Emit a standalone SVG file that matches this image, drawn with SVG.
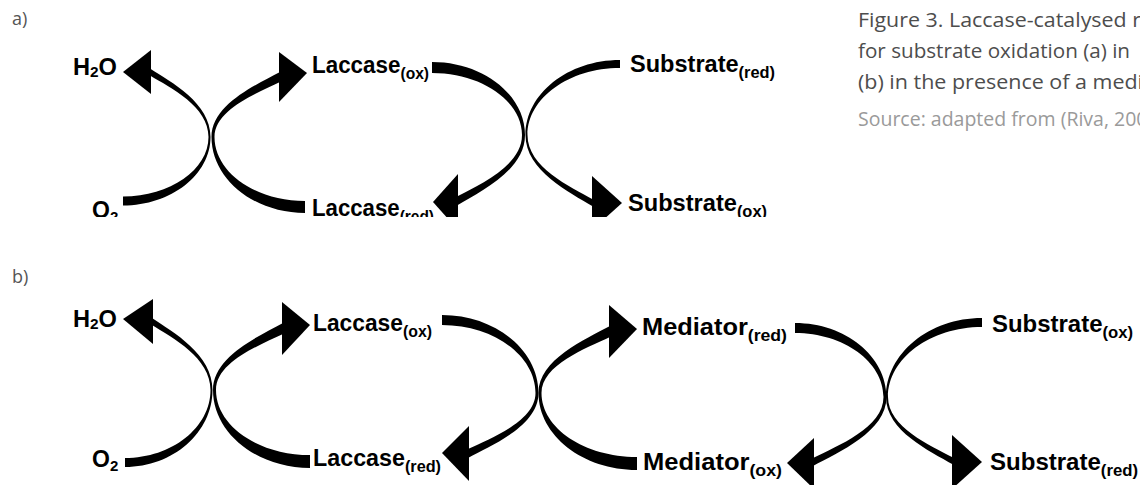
<svg xmlns="http://www.w3.org/2000/svg" width="1140" height="485" viewBox="0 0 1140 485">
<style>
.lbl{font-family:"Liberation Sans",Arial,sans-serif;font-weight:bold;font-size:23px;fill:#000}
.sub{font-size:16px}
.sub2{font-size:15px}
.arc{fill:#000;stroke:none}
.cap{font-family:"Open Sans","Liberation Sans",sans-serif;font-size:19.5px;fill:#4d4d4d}
.src{fill:#9a9a9a}
.pl{font-family:"Open Sans","Liberation Sans",sans-serif;font-size:18px;fill:#555}
</style>
<defs>
<clipPath id="clipA"><rect x="0" y="0" width="1140" height="217"/></clipPath>
</defs>
<rect width="1140" height="485" fill="#fff"/>

<g id="caption">
<text class="cap" x="858" y="27" textLength="283" lengthAdjust="spacingAndGlyphs">Figure 3. Laccase-catalysed r</text>
<text class="cap" x="858" y="58" textLength="272" lengthAdjust="spacingAndGlyphs">for substrate oxidation (a) in</text>
<text class="cap" x="858" y="89" textLength="285" lengthAdjust="spacingAndGlyphs">(b) in the presence of a medi</text>
<text class="cap src" x="858" y="126">Source: adapted from (Riva, 200</text>
</g>

<g id="label-a"><text class="pl" x="12" y="25">a)</text></g>
<g id="label-b"><text class="pl" x="12" y="283">b)</text></g>

<g id="panel-a" clip-path="url(#clipA)">
<g id="connectors-a">
<path class="arc" d="M150,68.5 C171.2,82.2 210.5,102.8 210.5,137 C210.5,174.7 171.1,205.5 123,205.5 L123,196.5 C170,196.5 208.5,169.7 208.5,137 C208.5,106.3 170.5,87.8 150,75.5 Z"/>
<polygon class="arc" points="123,72 151,50 151,94"/>
<path class="arc" d="M280,72 C256,85 211.5,104.5 211.5,137 C211.5,178.8 253.6,213 305,213 L305,201 C255.2,201 214.5,172.2 214.5,137 C214.5,109.5 257.1,93 280,82 Z"/>
<polygon class="arc" points="307,73 279,52 279,102"/>
<path class="arc" d="M432,62 C483.2,62 525,94.8 525,135 C525,170.3 480.8,191.4 457,205.5 L457,196.5 C479.8,184.2 522,165.8 522,135 C522,100.9 481.5,73 432,73 Z"/>
<polygon class="arc" points="433,202 458,174 458,230"/>
<path class="arc" d="M620,60 C568,60 525.5,93.8 525.5,135 C525.5,170.8 569.4,192.2 593,206.5 L593,199.5 C570.1,186.6 527.5,167.3 527.5,135 C527.5,98.1 569.1,68 620,68 Z"/>
<polygon class="arc" points="622,203 592,176 592,230"/>
</g>
<g id="a-h2o"><text class="lbl" x="73" y="75" textLength="44" lengthAdjust="spacingAndGlyphs">H<tspan class="sub2" dy="2">2</tspan><tspan dy="-2">O</tspan></text></g>
<g id="a-o2"><text class="lbl" x="92" y="218">O<tspan class="sub2" dy="4">2</tspan></text></g>
<g id="a-laccase-ox"><text class="lbl" x="312" y="73" textLength="117" lengthAdjust="spacingAndGlyphs">Laccase<tspan class="sub" dy="6">(ox)</tspan></text></g>
<g id="a-laccase-red"><text class="lbl" x="312" y="216" textLength="122" lengthAdjust="spacingAndGlyphs">Laccase<tspan class="sub" dy="6">(red)</tspan></text></g>
<g id="a-substrate-red"><text class="lbl" x="630" y="72" textLength="145" lengthAdjust="spacingAndGlyphs">Substrate<tspan class="sub" dy="6">(red)</tspan></text></g>
<g id="a-substrate-ox"><text class="lbl" x="628" y="211" textLength="139" lengthAdjust="spacingAndGlyphs">Substrate<tspan class="sub" dy="6">(ox)</tspan></text></g>
</g>

<g id="panel-b">
<g id="connectors-b">
<path class="arc" d="M152,318 C173.2,332.4 212.5,354 212.5,390 C212.5,432.4 173.1,467 125,467 L125,458 C172,458 210.5,427.4 210.5,390 C210.5,357.5 172.5,338 152,325 Z"/>
<polygon class="arc" points="123,319 153,299 153,344"/>
<path class="arc" d="M283,323 C258.5,336.4 213,356.5 213,390 C213,432.9 256.7,468 310,468 L310,455 C258.3,455 216,425.8 216,390 C216,362 259.5,345.2 283,334 Z"/>
<polygon class="arc" points="310,325 282,302 282,355"/>
<path class="arc" d="M442,315 C495.1,315 538.5,350.1 538.5,393 C538.5,425.5 492.7,445 468,458 L468,449 C491.6,437.8 535.5,421 535.5,393 C535.5,355.6 493.4,325 442,325 Z"/>
<polygon class="arc" points="442,453 469,426 469,481"/>
<path class="arc" d="M610,326 C585,339.4 538.5,359.5 538.5,393 C538.5,435.4 582.8,470 637,470 L637,457 C584.5,457 541.5,428.2 541.5,393 C541.5,365 586,348.2 610,337 Z"/>
<polygon class="arc" points="637,329 609,305 609,358"/>
<path class="arc" d="M795,323 C845.3,323 886.5,356.3 886.5,397 C886.5,431.5 838.7,452.2 813,466 L813,458 C837.7,445.8 883.5,427.5 883.5,397 C883.5,361.8 843.7,333 795,333 Z"/>
<polygon class="arc" points="787,463 814,438 814,489"/>
<path class="arc" d="M982,318 C929.2,318 886,353.5 886,397 C886,430.8 929.6,451 953,464.5 L953,457.5 C930.3,445.4 888,427.3 888,397 C888,358.5 930.3,327 982,327 Z"/>
<polygon class="arc" points="982,462 952,435 952,489"/>
</g>
<g id="b-h2o"><text class="lbl" x="73" y="327" textLength="44" lengthAdjust="spacingAndGlyphs">H<tspan class="sub2" dy="2">2</tspan><tspan dy="-2">O</tspan></text></g>
<g id="b-o2"><text class="lbl" x="92" y="467">O<tspan class="sub2" dy="4">2</tspan></text></g>
<g id="b-laccase-ox"><text class="lbl" x="313" y="331" textLength="119" lengthAdjust="spacingAndGlyphs">Laccase<tspan class="sub" dy="6">(ox)</tspan></text></g>
<g id="b-laccase-red"><text class="lbl" x="313" y="466" textLength="128" lengthAdjust="spacingAndGlyphs">Laccase<tspan class="sub" dy="6">(red)</tspan></text></g>
<g id="b-mediator-red"><text class="lbl" x="642" y="335" textLength="145" lengthAdjust="spacingAndGlyphs">Mediator<tspan class="sub" dy="6">(red)</tspan></text></g>
<g id="b-mediator-ox"><text class="lbl" x="643" y="470" textLength="139" lengthAdjust="spacingAndGlyphs">Mediator<tspan class="sub" dy="6">(ox)</tspan></text></g>
<g id="b-substrate-ox"><text class="lbl" x="992" y="332" textLength="141" lengthAdjust="spacingAndGlyphs">Substrate<tspan class="sub" dy="6">(ox)</tspan></text></g>
<g id="b-substrate-red"><text class="lbl" x="990" y="470" textLength="148" lengthAdjust="spacingAndGlyphs">Substrate<tspan class="sub" dy="6">(red)</tspan></text></g>
</g>
</svg>
